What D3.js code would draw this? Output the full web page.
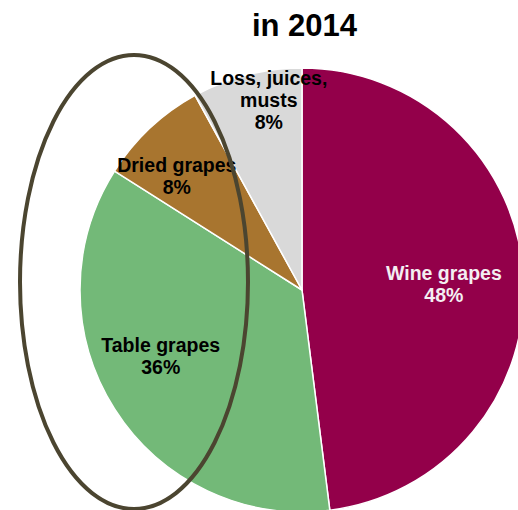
<!DOCTYPE html>
<html>
<head>
<meta charset="utf-8">
<script src="https://cdn.jsdelivr.net/npm/d3@7/dist/d3.min.js"></script>
<style>
  html, body { margin: 0; padding: 0; background: #ffffff; }
  svg { display: block; font-family: "Liberation Sans", Arial, sans-serif; }
</style>
</head>
<body>
<svg id="chart" width="518" height="510"></svg>
<script>
// Grape usage shares in 2014
const categories = ["Wine grapes", "Table grapes", "Dried grapes", "Loss, juices, musts"];
const shares = [48, 36, 8, 8];
const labelLines = [["Wine grapes"], ["Table grapes"], ["Dried grapes"], ["Loss, juices,", "musts"]];
const colors = ["#93004a", "#73b978", "#a8752f", "#d9d9d9"];
const labelColors = ["#f4eef2", "#000000", "#000000", "#000000"];
const titleText = "in 2014";

// label placement: distance from centre and angular shift (degrees) from the slice middle
const labelPlacement = [[142, 1.2], [156, 7.3], [169, -4.6], [193, 4.5]];

const W = 518, H = 510;
const cx = 302, cy = 290, R = 222;

const svg = d3.select("#chart");

svg.append("text")
  .attr("x", 304.5).attr("y", 36)
  .attr("text-anchor", "middle")
  .attr("font-size", 31).attr("font-weight", "bold")
  .attr("fill", "#000")
  .text(titleText);

const data = categories.map((c, i) => ({ name: c, value: shares[i], idx: i }));

const pie = d3.pie().value(d => d.value).sort(null);
const arcs = pie(data);
const arc = d3.arc().innerRadius(0).outerRadius(R);

const g = svg.append("g").attr("transform", `translate(${cx},${cy})`);

g.selectAll("path.slice")
  .data(arcs)
  .join("path")
  .attr("class", "slice")
  .attr("d", arc)
  .attr("fill", d => colors[d.data.idx])
  .attr("stroke", "#ffffff")
  .attr("stroke-width", 1.5)
  .attr("stroke-linejoin", "round");

const fs = 19.5, lh = 22;
arcs.forEach(d => {
  const i = d.data.idx;
  const [r, shift] = labelPlacement[i];
  const a = (d.startAngle + d.endAngle) / 2 + shift * Math.PI / 180;
  const x = r * Math.sin(a), y = -r * Math.cos(a);
  const lines = labelLines[i].concat([d.data.value + "%"]);
  const n = lines.length;
  const t = g.append("text")
    .attr("text-anchor", "middle")
    .attr("font-size", fs).attr("font-weight", "bold")
    .attr("fill", labelColors[i]);
  lines.forEach((ln, k) => {
    t.append("tspan")
      .attr("x", x)
      .attr("y", y + 7 + (k - (n - 1) / 2) * lh)
      .text(ln);
  });
});

// highlight ring around the table and dried grape shares
svg.append("ellipse")
  .attr("cx", 134).attr("cy", 282)
  .attr("rx", 114).attr("ry", 227)
  .attr("fill", "none")
  .attr("stroke", "#4b4530")
  .attr("stroke-width", 4);
</script>
</body>
</html>
